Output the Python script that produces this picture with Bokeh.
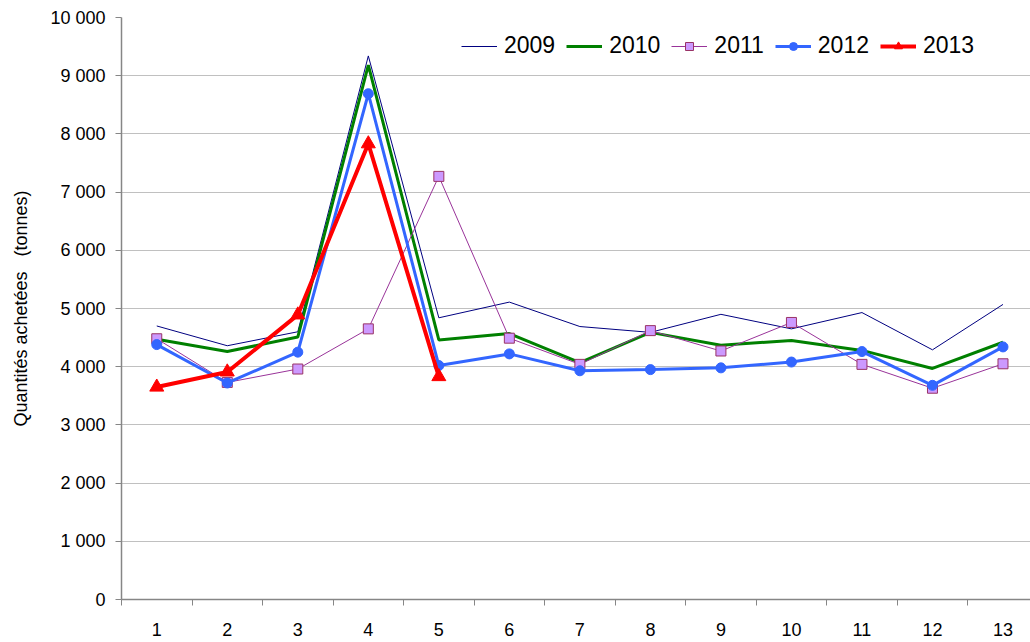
from bokeh.plotting import figure
from bokeh.models import Range1d, FixedTicker, Legend, LegendItem
from bokeh.embed import file_html
from bokeh.resources import INLINE

# ---- data ----
periods = [1, 2, 3, 4, 5, 6, 7, 8, 9, 10, 11, 12, 13]
y2009 = [4700, 4360, 4600, 9340, 4840, 5110, 4690, 4590, 4900, 4650, 4930, 4290, 5070]
y2010 = [4470, 4260, 4510, 9180, 4460, 4570, 4070, 4590, 4370, 4450, 4280, 3970, 4420]
y2011 = [4480, 3730, 3960, 4650, 7270, 4490, 4040, 4620, 4270, 4760, 4040, 3630, 4050]
y2012 = [4380, 3720, 4250, 8690, 4020, 4220, 3930, 3950, 3980, 4080, 4260, 3680, 4340]
periods_2013 = [1, 2, 3, 4, 5]
y2013 = [3650, 3910, 4890, 7830, 3830]
y_ticks = [0, 1000, 2000, 3000, 4000, 5000, 6000, 7000, 8000, 9000, 10000]
y_tick_labels = ["0", "1 000", "2 000", "3 000", "4 000", "5 000", "6 000",
                 "7 000", "8 000", "9 000", "10 000"]
series_names = ["2009", "2010", "2011", "2012", "2013"]
y_title = "Quantités achetées\u00a0\u00a0 (tonnes)"

FONT = "Liberation Sans"
AXIS_COLOR = "#868686"

p = figure(width=1030, height=642, output_backend="svg", toolbar_location=None,
           x_range=Range1d(0.5, 13.39), y_range=Range1d(0, 10000),
           min_border_left=121, min_border_right=0, min_border_top=17,
           min_border_bottom=43)
p.outline_line_color = None
p.background_fill_color = "white"
p.border_fill_color = "white"

# grid
p.xgrid.grid_line_color = None
p.ygrid.grid_line_color = "#c0c0c0"
p.ygrid.grid_line_width = 1

# y axis
p.yaxis.ticker = FixedTicker(ticks=y_ticks)
p.yaxis.major_label_overrides = {t: l for t, l in zip(y_ticks, y_tick_labels)}
p.yaxis.major_tick_in = 0
p.yaxis.major_tick_out = 6
p.yaxis.minor_tick_line_color = None
p.yaxis.axis_line_color = AXIS_COLOR
p.yaxis.axis_line_width = 1.5
p.yaxis.major_tick_line_color = AXIS_COLOR
p.yaxis.major_label_standoff = 10
p.yaxis.major_label_text_font = FONT
p.yaxis.major_label_text_font_size = "18px"
p.yaxis.major_label_text_color = "black"
p.yaxis.axis_label = y_title
p.yaxis.axis_label_text_font = FONT
p.yaxis.axis_label_text_font_size = "18px"
p.yaxis.axis_label_text_font_style = "normal"
p.yaxis.axis_label_text_color = "black"
p.yaxis.axis_label_standoff = 16

# x axis
p.xaxis.ticker = FixedTicker(ticks=periods, minor_ticks=[i + 0.5 for i in range(0, 14)])
p.xaxis.major_tick_in = 0
p.xaxis.major_tick_out = 0
p.xaxis.major_tick_line_color = None
p.xaxis.minor_tick_in = 0
p.xaxis.minor_tick_out = 6
p.xaxis.minor_tick_line_color = AXIS_COLOR
p.xaxis.axis_line_color = AXIS_COLOR
p.xaxis.axis_line_width = 1.5
p.xaxis.major_label_standoff = 17
p.xaxis.major_label_text_font = FONT
p.xaxis.major_label_text_font_size = "18px"
p.xaxis.major_label_text_color = "black"

# series
r09 = p.line(periods, y2009, line_color="#000080", line_width=1)
r10 = p.line(periods, y2010, line_color="#008000", line_width=3)
r11 = p.line(periods, y2011, line_color="#993399", line_width=1)
m11 = p.scatter(periods, y2011, marker="square", size=10,
                fill_color="#cc99ff", line_color="#993366", line_width=1)
r12 = p.line(periods, y2012, line_color="#3366ff", line_width=3)
m12 = p.scatter(periods, y2012, marker="circle", size=10,
                fill_color="#3366ff", line_color="#3366ff")
r13 = p.line(periods_2013, y2013, line_color="#ff0000", line_width=4)
m13 = p.scatter(periods_2013, y2013, marker="triangle", size=14,
                fill_color="#ff0000", line_color="#ff0000")

legend = Legend(items=[
    LegendItem(label=series_names[0], renderers=[r09]),
    LegendItem(label=series_names[1], renderers=[r10]),
    LegendItem(label=series_names[2], renderers=[r11, m11]),
    LegendItem(label=series_names[3], renderers=[r12, m12]),
    LegendItem(label=series_names[4], renderers=[r13, m13]),
], orientation="horizontal", location=(340, 540))
legend.border_line_color = None
legend.background_fill_alpha = 0
legend.padding = 0
legend.margin = 0
legend.spacing = 11
legend.label_standoff = 7
legend.glyph_width = 36
legend.glyph_height = 20
legend.label_text_font = FONT
legend.label_text_font_size = "23px"
legend.label_text_color = "black"
p.add_layout(legend)

open("out.html", "w").write(file_html(p, INLINE))
